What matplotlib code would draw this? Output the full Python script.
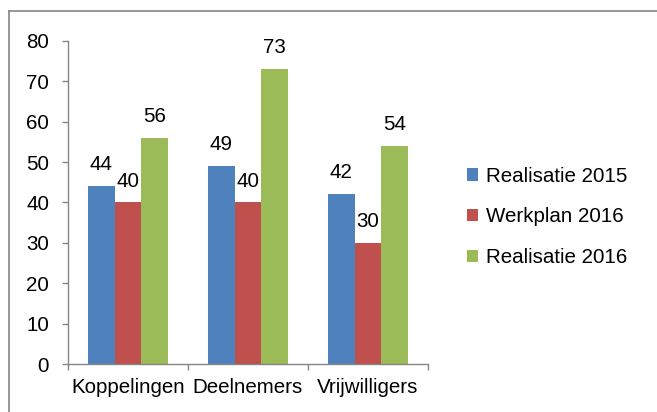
import matplotlib
matplotlib.use("Agg")
import matplotlib.pyplot as plt
from matplotlib.lines import Line2D
import numpy as np

plt.rcParams['font.family'] = ['Liberation Sans', 'DejaVu Sans']

categories = ["Koppelingen", "Deelnemers", "Vrijwilligers"]
series_names = ["Realisatie 2015", "Werkplan 2016", "Realisatie 2016"]
realisatie_2015 = [44, 49, 42]
werkplan_2016 = [40, 40, 30]
realisatie_2016 = [56, 73, 54]
colors = ["#4F81BD", "#C0504D", "#9BBB59"]
yticks = [0, 10, 20, 30, 40, 50, 60, 70, 80]

FS = 14.8
W, H = 657, 412
fig = plt.figure(figsize=(W / 100, H / 100), dpi=100)
ax = fig.add_axes([68 / W, (H - 364) / H, (428 - 68) / W, (364 - 41) / H])

x = np.arange(len(categories))
width = 0.222
offsets = [-width, 0, width]
all_series = [realisatie_2015, werkplan_2016, realisatie_2016]
for vals, off, col, name in zip(all_series, offsets, colors, series_names):
    ax.bar(x + off, vals, width, color=col, label=name, zorder=2)
    for xi, v in zip(x + off, vals):
        ax.annotate(str(v), (xi, v), xytext=(0, 11.5), textcoords='offset points',
                    ha='center', va='baseline', fontsize=FS, color='black')

ax.set_xlim(-0.5, 2.5)
ax.set_ylim(0, 80)
ax.set_yticks(yticks)
ax.set_yticklabels([str(t) for t in yticks])
ax.set_xticks(x)
ax.set_xticklabels(categories)
ax.set_xticks([-0.5, 0.5, 1.5, 2.5], minor=True)

axis_col = "#868686"
for s in ['top', 'right']:
    ax.spines[s].set_visible(False)
for s in ['left', 'bottom']:
    ax.spines[s].set_color(axis_col)
    ax.spines[s].set_linewidth(1.0)
ax.tick_params(axis='y', direction='out', length=4.5, width=1, color=axis_col,
               labelsize=FS, pad=9)
ax.tick_params(axis='x', which='major', length=0, labelsize=FS, pad=10)
ax.tick_params(axis='x', which='minor', direction='out', length=4.5, width=1, color=axis_col)

fig.legend(loc='center left', bbox_to_anchor=(467 / W, (H - 217) / H),
           frameon=False, fontsize=FS, handlelength=0.55, handleheight=0.55,
           handletextpad=0.35, labelspacing=1.05, borderpad=0, borderaxespad=0)

# chart border (top and left visible)
fig.add_artist(Line2D([9 / W, 1.0], [(H - 11) / H, (H - 11) / H], color=axis_col, lw=1.2,
                      transform=fig.transFigure))
fig.add_artist(Line2D([9 / W, 9 / W], [0, (H - 11) / H], color=axis_col, lw=1.2,
                      transform=fig.transFigure))

fig.savefig("out.png", dpi=100)
